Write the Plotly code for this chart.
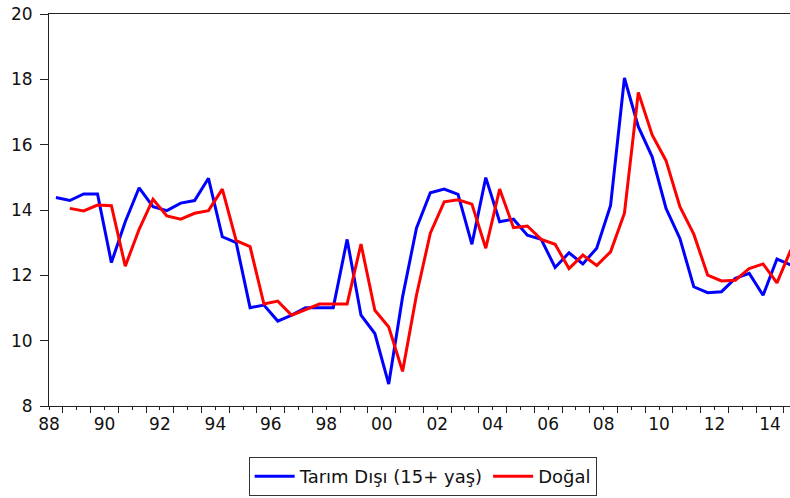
import plotly.graph_objects as go

# half-yearly observations, 1988 S1 .. 2014 S2
start_year = 1988
n_obs = 54

tarim_disi = [14.38, 14.29, 14.49, 14.49, 12.39, 13.64, 14.68, 14.10, 13.98, 14.21,
              14.29, 14.97, 13.18, 13.00, 11.01, 11.09, 10.60, 10.78, 11.01, 11.01,
              11.01, 13.10, 10.78, 10.22, 8.67, 11.34, 13.44, 14.53, 14.64, 14.48,
              12.95, 14.99, 13.64, 13.72, 13.23, 13.10, 12.24, 12.69, 12.35, 12.83,
              14.14, 18.04, 16.55, 15.63, 14.05, 13.13, 11.65, 11.47, 11.50, 11.91,
              12.06, 11.39, 12.50, 12.32]

# natural rate starts one period later (1988 S2)
dogal = [14.05, 13.97, 14.15, 14.13, 12.28, 13.41, 14.33, 13.82, 13.72,
         13.90, 13.98, 14.64, 13.06, 12.88, 11.12, 11.21, 10.78, 10.96, 11.12,
         11.12, 11.12, 12.96, 10.93, 10.42, 9.06, 11.39, 13.29, 14.25, 14.31,
         14.18, 12.83, 14.64, 13.46, 13.51, 13.10, 12.95, 12.21, 12.62, 12.30,
         12.72, 13.90, 17.60, 16.30, 15.51, 14.10, 13.26, 12.01, 11.83, 11.85,
         12.21, 12.35, 11.77, 12.78]

tick_years = list(range(1988, 2015))
tick_text = [("%02d" % (y % 100)) if y % 2 == 0 else "" for y in tick_years]
y_ticks = [8, 10, 12, 14, 16, 18, 20]

# period midpoints in years
periods = [start_year + 0.25 + 0.5 * i for i in range(n_obs)]

fig = go.Figure()
fig.add_trace(go.Scatter(x=periods, y=tarim_disi, mode="lines",
                         name="Tarım Dışı (15+ yaş)",
                         line=dict(color="#0000FF", width=3)))
fig.add_trace(go.Scatter(x=periods[n_obs - len(dogal):], y=dogal, mode="lines",
                         name="Doğal",
                         line=dict(color="#FF0000", width=3)))

fig.update_layout(
    width=790, height=498,
    margin=dict(l=49, r=0, t=14, b=92),
    plot_bgcolor="white", paper_bgcolor="white",
    font=dict(family="DejaVu Sans", size=17, color="#111111"),
    showlegend=True,
    legend=dict(orientation="h", xref="container", yref="container",
                x=0.535, xanchor="center", y=0.0823, yanchor="top",
                bordercolor="#333333", borderwidth=1,
                font=dict(size=18), itemwidth=40),
    xaxis=dict(range=[1988, 2014.72], tickvals=tick_years, ticktext=tick_text,
               ticks="outside", ticklen=3, tickcolor="#222222",
               showline=True, linecolor="#222222", linewidth=1, mirror=True,
               showgrid=False, zeroline=False, automargin=False,
               ticklabeloverflow="allow",
               minor=dict(ticks="outside", ticklen=6, tick0=1988.5, dtick=1,
                          tickcolor="#222222", showgrid=False)),
    yaxis=dict(range=[8, 20], tickvals=y_ticks,
               ticks="outside", ticklen=8, tickcolor="#222222",
               showline=True, linecolor="#222222", linewidth=1,
               showgrid=False, zeroline=False, ticklabelstandoff=4,
               automargin=False, ticklabeloverflow="allow"),
)

# drop the default page margin so the figure sits at the window corner
fig.write_html("out.html", config={"displayModeBar": False},
               post_script="document.body.style.margin='0';")
